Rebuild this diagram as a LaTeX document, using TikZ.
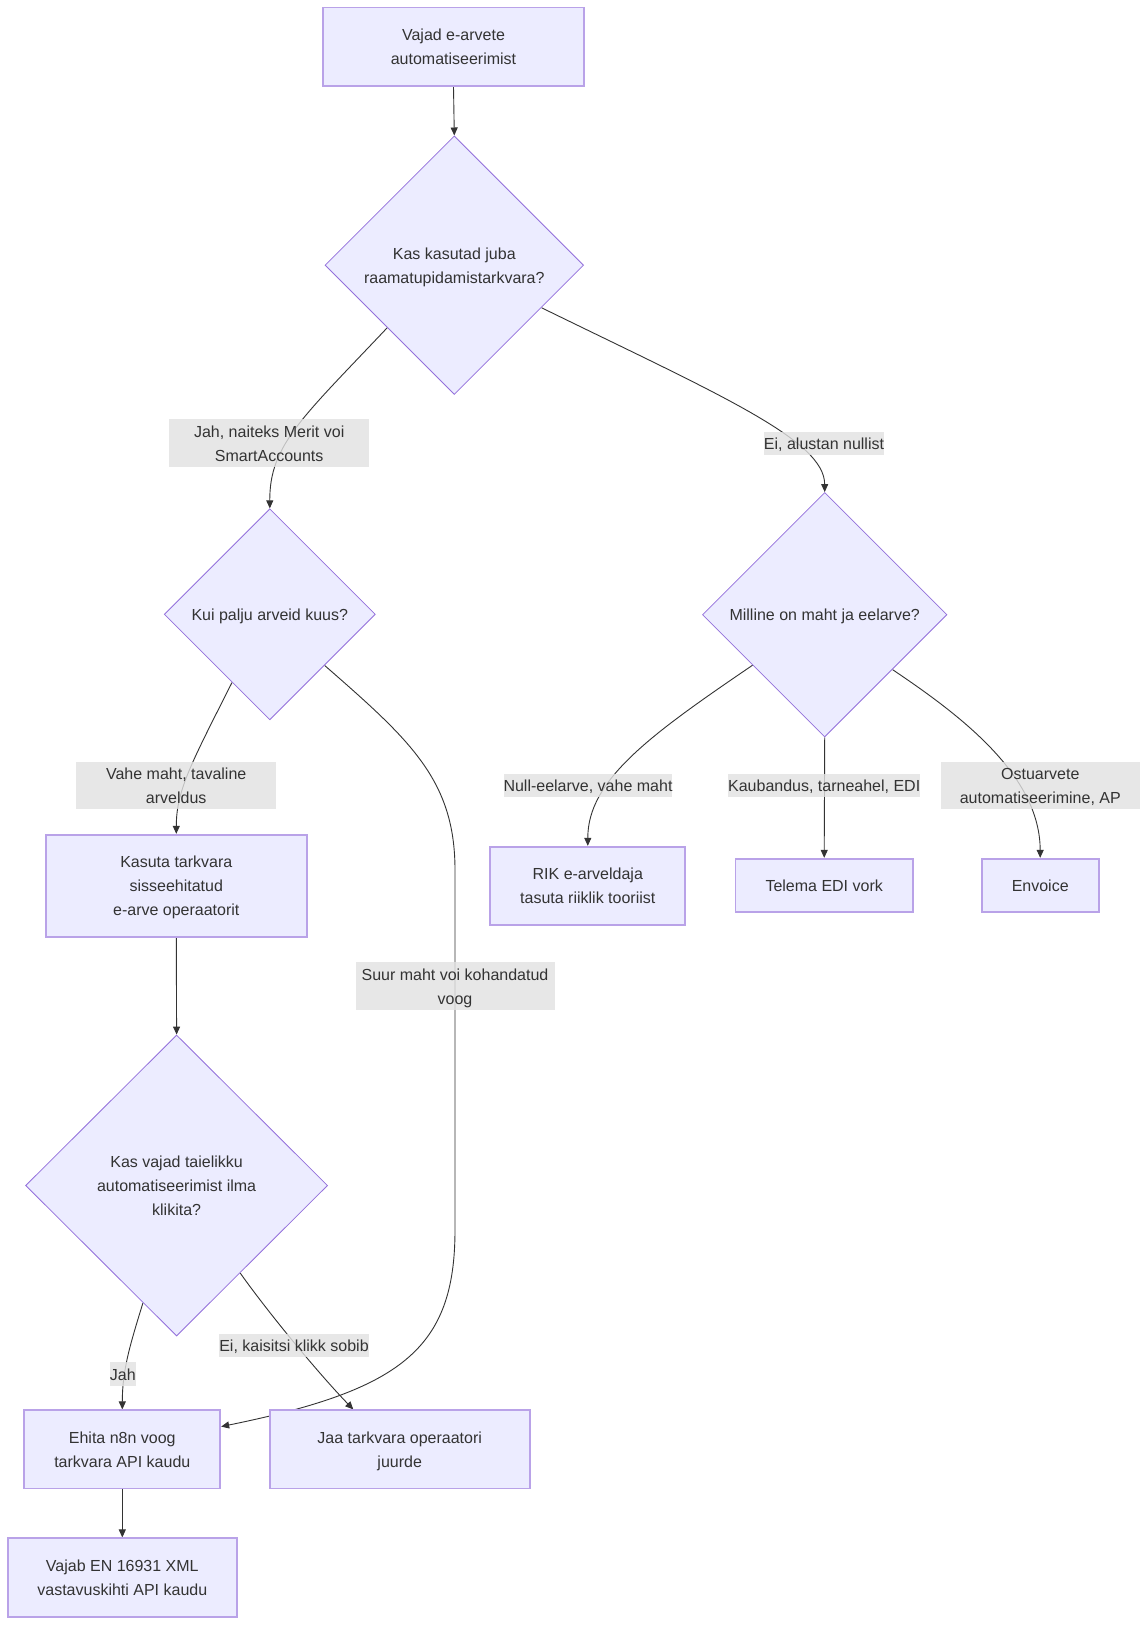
\documentclass[tikz,border=0pt]{standalone}
\usepackage{fontspec}
\setmainfont{Liberation Sans}
\usetikzlibrary{shapes.geometric,arrows.meta}
\definecolor{nodefill}{HTML}{ECECFF}
\definecolor{nodeline}{HTML}{9370DB}
\definecolor{ink}{HTML}{333333}
\definecolor{lblbg}{RGB}{226,226,226}
\newcommand{\mytopstrut}{\rule{0pt}{15.5pt}}
\newcommand{\mybotstrut}{\rule[-3.5pt]{0pt}{3.5pt}}
\pgfdeclarelayer{back}
\pgfdeclarelayer{bg}
\pgfsetlayers{back,bg,main}
\tikzset{
 txt/.style={font=\fontsize{16pt}{24pt}\selectfont, text=ink, align=center},
 box/.style={txt, rectangle, draw=nodeline!65, fill=nodefill, line width=1.7pt, inner sep=0pt},
 dec/.style={txt, diamond, draw=nodeline, fill=nodefill, line width=0.8pt, inner sep=0pt, aspect=1},
 lbl/.style={txt, fill=lblbg, fill opacity=0.8, text opacity=1, inner sep=0pt},
 conn/.style={draw=ink, line width=0.9pt, -{Triangle[length=8pt,width=7pt]}},
}
\begin{document}
\begin{tikzpicture}[x=1pt,y=-1pt]
\useasboundingbox (0,0) rectangle (1148,1625);
\begin{pgfonlayer}{back}
\fill[white] (0,0) rectangle (1148,1625);
\end{pgfonlayer}

% nodes
\node[box, minimum width=260.4pt, minimum height=78.7pt] (top) at (453.5,46.7) {\mytopstrut Vajad e-arvete\\automatiseerimist\mybotstrut};
\node[dec, minimum width=258.6pt, minimum height=258.6pt] (d1) at (454.3,265.2) {\mytopstrut Kas kasutad juba\\raamatupidamistarkvara?\mybotstrut};
\node[dec, minimum width=211pt, minimum height=211pt] (d2) at (269.8,614.3) {\mytopstrut Kui palju arveid kuus?\mybotstrut};
\node[dec, minimum width=244.5pt, minimum height=244.5pt] (d3) at (824.7,614.7) {\mytopstrut Milline on maht ja eelarve?\mybotstrut};
\node[box, minimum width=260.7pt, minimum height=102pt] (kasuta) at (176.3,885.7) {\mytopstrut Kasuta tarkvara\\sisseehitatud\\e-arve operaatorit\mybotstrut};
\node[box, minimum width=195pt, minimum height=78pt] (rik) at (587.8,885.7) {\mytopstrut RIK e-arveldaja\\tasuta riiklik tooriist\mybotstrut};
\node[box, minimum width=177.7pt, minimum height=53.6pt] (telema) at (824.2,885.5) {\mytopstrut Telema EDI vork\mybotstrut};
\node[box, minimum width=117pt, minimum height=53.6pt] (envoice) at (1040.2,885.5) {\mytopstrut Envoice\mybotstrut};
\node[dec, minimum width=302pt, minimum height=301pt] (d4) at (176.6,1185.5) {\mytopstrut Kas vajad taielikku\\automatiseerimist ilma\\klikita?\mybotstrut};
\node[box, minimum width=196pt, minimum height=78.2pt] (ehita) at (122.3,1449.4) {\mytopstrut Ehita n8n voog\\tarkvara API kaudu\mybotstrut};
\node[box, minimum width=260pt, minimum height=78.2pt] (jaa) at (399.7,1449.4) {\mytopstrut Jaa tarkvara operaatori\\juurde\mybotstrut};
\node[box, minimum width=229.3pt, minimum height=78.4pt] (vajab) at (122.3,1577.5) {\mytopstrut Vajab EN 16931 XML\\vastavuskihti API kaudu\mybotstrut};

% edge labels
\node[lbl, minimum width=199.7pt, minimum height=47.4pt] (l1) at (269.2,443) {\mytopstrut Jah, naiteks Merit voi\\SmartAccounts\mybotstrut};
\node[lbl, minimum height=23pt] (l2) at (824,443.5) {\mytopstrut Ei, alustan nullist\mybotstrut};
\node[lbl, minimum width=199.7pt, minimum height=47pt] (l3) at (176.2,785.8) {\mytopstrut Vahe maht, tavaline\\arveldus\mybotstrut};
\node[lbl, minimum width=199pt, minimum height=47.4pt] (l4) at (455,986) {\mytopstrut Suur maht voi kohandatud\\voog\mybotstrut};
\node[lbl, minimum height=23pt] (l5) at (588,785.8) {\mytopstrut Null-eelarve, vahe maht\mybotstrut};
\node[lbl, minimum height=23pt] (l6) at (824.2,785.8) {\mytopstrut Kaubandus, tarneahel, EDI\mybotstrut};
\node[lbl, minimum width=199.3pt, minimum height=47.3pt] (l7) at (1040.3,785.7) {\mytopstrut Ostuarvete\\automatiseerimine, AP\mybotstrut};
\node[lbl, minimum height=23.4pt] (l8) at (122.8,1374) {\mytopstrut Jah\mybotstrut};
\node[lbl, minimum height=23pt] (l9) at (294,1345.5) {\mytopstrut Ei, kaisitsi klikk sobib\mybotstrut};

% connectors
\begin{pgfonlayer}{bg}
\draw[conn] (top.south) -- (d1.north);
\draw[conn] (d1.223.7) .. controls (302,418) and (269.5,445) .. (d2.north);
\draw[conn] (d1.334.3) .. controls (720,395) and (824.5,440) .. (d3.north);
\draw[conn] (d2.241.1) .. controls (192,762) and (176.3,790) .. (kasuta.north);
\draw[conn] (d2.317) .. controls (410,740) and (455,780) .. (455,870) -- (455,1230) .. controls (455,1350) and (400,1390) .. (ehita.13);
\draw[conn] (kasuta.south) -- (d4.north);
\draw[conn] (d3.215.5) .. controls (650,735) and (587.7,780) .. (rik.north);
\draw[conn] (d3.south) -- (telema.north);
\draw[conn] (d3.321.5) .. controls (960,715) and (1040,775) .. (envoice.north);
\draw[conn] (d4.254) .. controls (130,1345) and (122.3,1370) .. (ehita.north);
\draw[conn] (d4.306.2) .. controls (270,1315) and (320,1375) .. ([xshift=-46.4pt]jaa.north);
\draw[conn] (ehita.south) -- (vajab.north);
\end{pgfonlayer}
\end{tikzpicture}
\end{document}
